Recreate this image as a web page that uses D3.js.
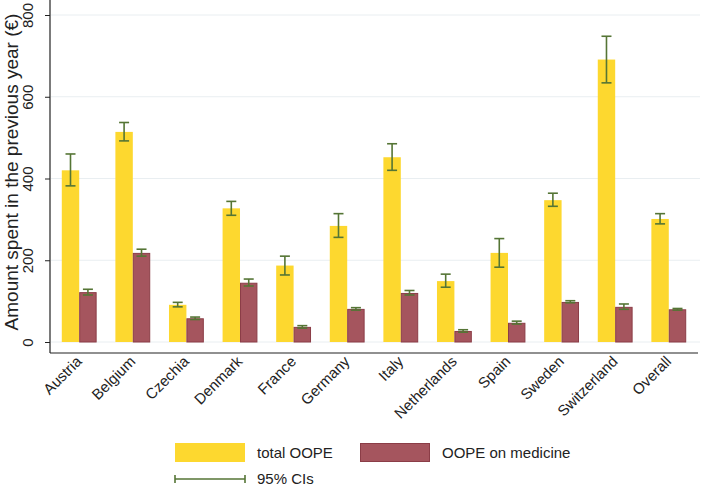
<!DOCTYPE html>
<html><head><meta charset="utf-8">
<script src="https://cdn.jsdelivr.net/npm/d3@7"></script>
<style>body{margin:0;background:#fff}svg{display:block}text{font-family:"Liberation Sans",Arial,sans-serif}</style>
</head><body><svg id="c" width="704" height="489"></svg>
<script>
const countries = ["Austria","Belgium","Czechia","Denmark","France","Germany","Italy","Netherlands","Spain","Sweden","Switzerland","Overall"];
const totalOOPE = [420,514,91,327,187,284,452,149,218,347,691,301];
const totalLo   = [382,492,86,310,164,256,420,134,183,332,634,289];
const totalHi   = [460,537,97,344,210,314,485,166,253,364,748,314];
const medOOPE   = [122,218,58,145,37,81,120,27,47,98,86,80];
const medLo     = [115,210,55,137,34,78,115,24,44,96,80,78];
const medHi     = [129,227,61,154,40,84,126,30,51,101,93,82];
const yTicks = [0,200,400,600,800];

const svg = d3.select("#c");
const yellow = "#fdd82f", red = "#a5555e", redStroke = "#8b3d47", ciCol = "#557535";
const y = d3.scaleLinear().domain([0,800]).range([342,15]);
const x = d3.scaleBand().domain(countries).range([50,698]).paddingInner(0.35).paddingOuter(0.22);
const sub = d3.scaleBand().domain(["t","m"]).range([0, x.bandwidth()]);

// gridlines
svg.append("g").selectAll("line").data(yTicks).join("line")
  .attr("x1",51).attr("x2",700).attr("y1",d=>y(d)).attr("y2",d=>y(d))
  .attr("stroke","#e9eef1").attr("stroke-width",1);

// y axis
const yAxis = svg.append("g").attr("transform","translate(50,0)")
  .call(d3.axisLeft(y).tickValues(yTicks).tickSize(5).tickPadding(4));
yAxis.select(".domain").attr("d","M0,0V353").attr("stroke","#222").attr("stroke-width",1.2);
yAxis.selectAll(".tick line").attr("stroke","#222");
yAxis.selectAll(".tick text").attr("font-size",15).attr("fill","#222")
  .attr("text-anchor","middle").attr("dy","0")
  .attr("transform","translate(-17,0) rotate(-90)").attr("x",0).attr("y",0);

// x axis line
svg.append("line").attr("x1",50).attr("x2",698).attr("y1",353).attr("y2",353).attr("stroke","#222").attr("stroke-width",1.2);

// bars
const g = svg.append("g");
countries.forEach((c,i)=>{
  const x0 = x(c);
  g.append("rect").attr("x",x0+sub("t")).attr("width",sub.bandwidth())
    .attr("y",y(totalOOPE[i])).attr("height",y(0)-y(totalOOPE[i])).attr("fill",yellow);
  g.append("rect").attr("x",x0+sub("m")+0.5).attr("width",sub.bandwidth()-1)
    .attr("y",y(medOOPE[i])+0.5).attr("height",y(0)-y(medOOPE[i])-0.5).attr("fill",red)
    .attr("stroke",redStroke).attr("stroke-width",1);
  const ci = (cx, lo, hi) => {
    g.append("line").attr("x1",cx).attr("x2",cx).attr("y1",y(lo)).attr("y2",y(hi)).attr("stroke",ciCol).attr("stroke-width",1.6);
    [lo,hi].forEach(v=>g.append("line").attr("x1",cx-5).attr("x2",cx+5).attr("y1",y(v)).attr("y2",y(v)).attr("stroke",ciCol).attr("stroke-width",1.6));
  };
  ci(x0+sub("t")+sub.bandwidth()/2, totalLo[i], totalHi[i]);
  ci(x0+sub("m")+sub.bandwidth()/2, medLo[i], medHi[i]);
});

// x labels
svg.append("g").selectAll("text").data(countries).join("text")
  .attr("transform",d=>`translate(${x(d)+x.bandwidth()/2-4},355) rotate(-45)`)
  .attr("text-anchor","end").attr("dy","0.7em").attr("font-size",15).attr("fill","#222").text(d=>d);

// y title
svg.append("text").attr("transform","translate(18,172) rotate(-90)").attr("text-anchor","middle")
  .attr("font-size",19).attr("fill","#222").text("Amount spent in the previous year (€)");

// legend
const lg = svg.append("g");
lg.append("rect").attr("x",175).attr("y",443).attr("width",70).attr("height",19).attr("fill",yellow);
lg.append("text").attr("x",257).attr("y",458).attr("font-size",15).attr("fill","#222").text("total OOPE");
lg.append("rect").attr("x",360.5).attr("y",443.5).attr("width",69).attr("height",18).attr("fill",red).attr("stroke",redStroke);
lg.append("text").attr("x",442).attr("y",458).attr("font-size",15).attr("fill","#222").text("OOPE on medicine");
lg.append("line").attr("x1",175).attr("x2",245).attr("y1",479).attr("y2",479).attr("stroke",ciCol).attr("stroke-width",1.6);
[175,245].forEach(v=>lg.append("line").attr("x1",v).attr("x2",v).attr("y1",475).attr("y2",483).attr("stroke",ciCol).attr("stroke-width",1.6));
lg.append("text").attr("x",257).attr("y",484).attr("font-size",15).attr("fill","#222").text("95% CIs");
</script></body></html>
